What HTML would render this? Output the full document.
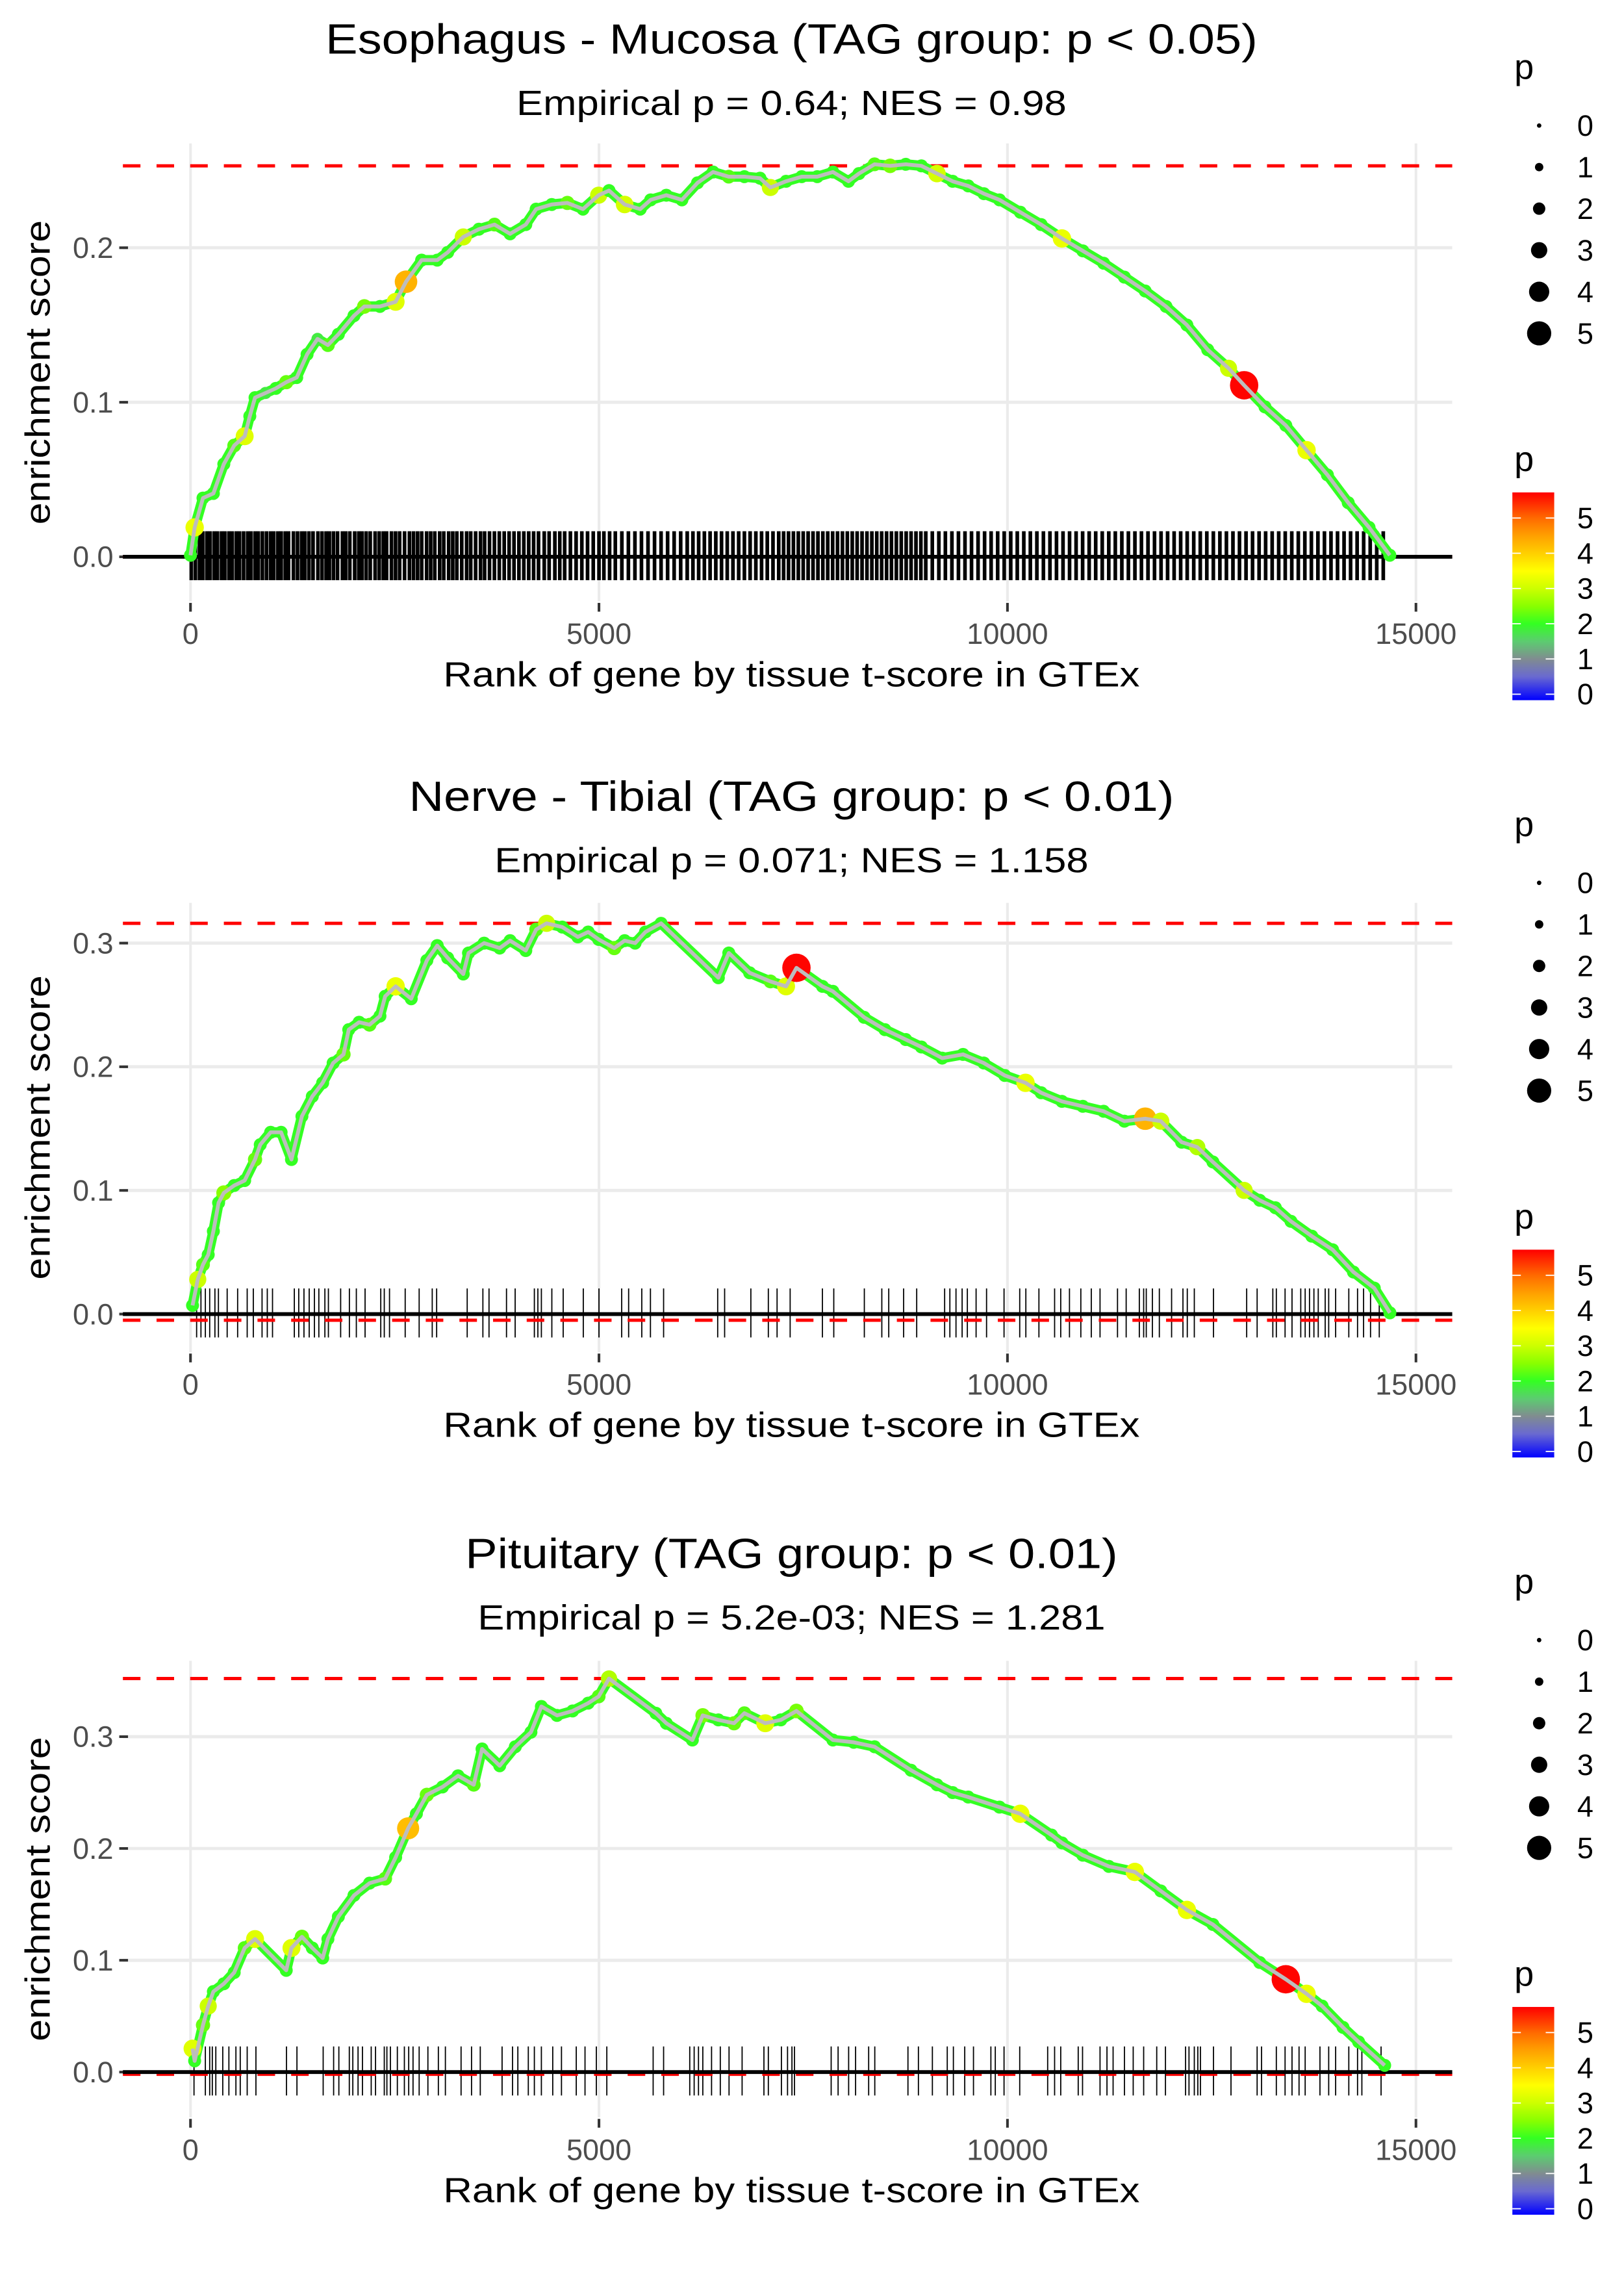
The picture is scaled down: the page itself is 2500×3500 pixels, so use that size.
<!DOCTYPE html>
<html><head><meta charset="utf-8"><title>GSEA enrichment plots</title>
<style>
html,body{margin:0;padding:0;background:#fff;}
svg{display:block;font-family:"Liberation Sans",Arial,sans-serif;}
</style></head>
<body>
<svg id="fig" xmlns="http://www.w3.org/2000/svg" width="2500" height="3500" viewBox="0 0 1110 1554">
<defs>
<linearGradient id="pgrad" x1="0" y1="1" x2="0" y2="0">
<stop offset="0" stop-color="#0000ff"/><stop offset="0.114" stop-color="#6a6ad0"/>
<stop offset="0.198" stop-color="#808c90"/><stop offset="0.283" stop-color="#5ccc70"/>
<stop offset="0.368" stop-color="#33ff22"/><stop offset="0.452" stop-color="#88ff00"/>
<stop offset="0.537" stop-color="#ccff00"/><stop offset="0.622" stop-color="#ffff00"/>
<stop offset="0.706" stop-color="#ffd000"/><stop offset="0.791" stop-color="#ffa000"/>
<stop offset="0.876" stop-color="#ff6a00"/><stop offset="1" stop-color="#ff0000"/>
</linearGradient>
</defs>
</svg>
<script>
// ---------- data ----------
const xTicks = [0, 5000, 10000, 15000];
const xTickLabels = ["0", "5000", "10000", "15000"];
const legendValues = [0, 1, 2, 3, 4, 5];

const titles = ["Esophagus - Mucosa (TAG group: p < 0.05)", "Nerve - Tibial (TAG group: p < 0.01)", "Pituitary (TAG group: p < 0.01)"];
const subtitles = ["Empirical p = 0.64; NES = 0.98", "Empirical p = 0.071; NES = 1.158", "Empirical p = 5.2e-03; NES = 1.281"];
const maxES = [0.253, 0.316, 0.352];
const minES = [0.0, -0.005, -0.002];
const yTicks1 = [0.0, 0.1, 0.2];
const yTicks2 = [0.0, 0.1, 0.2, 0.3];
const yTicks3 = [0.0, 0.1, 0.2, 0.3];

const p1Rank = [0,51,153,280,408,535,663,726,790,918,
1045,1172,1300,1427,1555,1682,1810,2001,2128,2319,
2511,2638,2829,3020,3148,3339,3530,3721,3912,4104,
4231,4422,4613,4804,4996,5123,5314,5505,5633,5824,
6015,6206,6397,6588,6780,6971,7098,7290,7481,7672,
7863,8054,8182,8373,8564,8755,8946,9137,9329,9520,
9711,9902,10157,10412,10667,10922,11177,11431,11686,11941,
12196,12451,12706,12897,13152,13407,13661,13916,14171,14426,
14680];
const p1ES = [0.001,0.019,0.038,0.041,0.060,0.072,0.078,0.091,0.103,0.106,
0.109,0.113,0.116,0.131,0.141,0.137,0.144,0.156,0.162,0.162,
0.165,0.178,0.192,0.192,0.197,0.207,0.212,0.215,0.209,0.215,
0.225,0.228,0.229,0.225,0.234,0.237,0.228,0.225,0.231,0.234,
0.231,0.242,0.249,0.246,0.246,0.245,0.239,0.243,0.246,0.246,
0.249,0.243,0.248,0.254,0.253,0.254,0.253,0.248,0.243,0.240,
0.235,0.231,0.223,0.215,0.206,0.198,0.190,0.181,0.172,0.162,
0.150,0.134,0.122,0.111,0.097,0.085,0.069,0.053,0.035,0.019,
0.001];
const p1P = [2,3.3,2,2,2,2.2,3.2,2,2,1.8,
2,2.3,2,2,1.8,2.2,2,2,2.4,2,
3.2,4.3,2,2,2,3,2,2.2,2,2,
2,2,2.3,2,3,2,3.1,2,2,2,
2,2,2,2.2,2,2,3,2,2,2,
2,2,2,2.2,2.4,2,2,3.1,2,2,
2,2,2,2,3.3,2,2,2,2,2,
2,2,3,5.7,2,2,3.3,2,2,2,
2];
const p1Rug = [10,60,110,150,200,240,290,330,380,420,470,510,560,600,650,700,740,790,830,880,930,980,1020,1070,1110,1160,1200,1260,1310,1360,1400,1450,1500,1560,1610,1660,1700,1750,1800,1860,1900,1950,2010,2060,2100,2150,2200,2260,2310,2360,2400,2460,2510,2560,2620,2680,2730,2780,2830,2890,2940,2990,3050,3100,3160,3210,3260,3320,3380,3430,3490,3550,3600,3660,3720,3780,3840,3900,3960,4020,4080,4140,4200,4260,4330,4390,4460,4520,4580,4650,4720,4790,4860,4930,5000,5060,5130,5200,5280,5360,5440,5520,5600,5680,5760,5840,5920,6000,6080,6150,6220,6290,6360,6430,6500,6570,6640,6710,6780,6850,6920,6990,7060,7130,7200,7260,7320,7380,7440,7500,7560,7620,7680,7740,7800,7860,7920,7980,8040,8100,8160,8220,8280,8340,8400,8460,8520,8580,8640,8700,8760,8820,8880,8940,9000,9080,9160,9240,9320,9400,9480,9560,9640,9720,9800,9880,9960,10040,10120,10200,10280,10360,10440,10520,10600,10680,10760,10840,10920,11000,11080,11160,11240,11320,11400,11480,11560,11640,11720,11800,11880,11960,12040,12120,12200,12280,12360,12440,12520,12600,12680,12760,12840,12920,13000,13080,13160,13240,13320,13400,13480,13560,13640,13720,13800,13880,13960,14040,14120,14200,14280,14360,14440,14520,14600];

const p2Rank = [25,89,153,217,280,344,408,535,663,790,
854,981,1109,1236,1364,1491,1618,1746,1873,1937,
2064,2192,2319,2383,2511,2702,2893,3020,3148,3339,
3403,3594,3785,3912,4104,4231,4359,4550,4741,4868,
4996,5187,5314,5442,5569,5760,6461,6589,6844,7099,
7290,7417,7736,7863,8245,8500,8755,8946,9201,9456,
9711,9966,10221,10412,10667,10922,11177,11431,11686,11877,
12132,12323,12515,12897,13088,13279,13470,13725,13980,14235,
14490,14681];
const p2ES = [0.007,0.028,0.040,0.048,0.067,0.090,0.098,0.104,0.108,0.125,
0.137,0.147,0.147,0.125,0.160,0.176,0.187,0.203,0.210,0.230,
0.236,0.234,0.241,0.257,0.265,0.255,0.286,0.298,0.288,0.275,
0.292,0.300,0.296,0.302,0.294,0.311,0.316,0.313,0.305,0.309,
0.303,0.296,0.302,0.300,0.309,0.316,0.272,0.292,0.276,0.269,
0.265,0.280,0.265,0.261,0.240,0.230,0.222,0.216,0.207,0.210,
0.203,0.193,0.187,0.179,0.172,0.168,0.164,0.156,0.158,0.156,
0.139,0.135,0.123,0.100,0.092,0.086,0.075,0.063,0.052,0.034,
0.021,0.001];
const p2P = [2,3,2.2,2,2,2,2.5,2,2,2.3,
2,2,2,2,2,2,2,2,2.3,2,
2,2.2,2,2,3.3,2,2,2,2,2,
2,2,2,2,2,2.2,3,2,2,2,
2,2.3,2,2,2,2,2,2,2,2.2,
3.2,5.7,2,2,2,2,2,2,2,2,
2,2,3.3,2,2,2,2,2,4.3,3,
2,2.8,2,3,2,2,2,2,2,2,
2,2];
const p2Rug = [75,128,182,235,299,342,449,577,694,769,876,940,1004,1271,1325,1389,1453,1517,1571,1645,1688,1838,1945,2030,2137,2329,2372,2436,2628,2799,2959,3013,3387,3579,3654,3868,3974,4209,4252,4295,4423,4562,4808,5000,5278,5363,5524,5630,5791,6453,6538,6859,7073,7180,7340,7735,7874,8248,8462,8547,8729,8889,9231,9295,9370,9445,9509,9616,9744,9958,10150,10225,10385,10577,10652,10759,10898,11026,11133,11347,11453,11614,11667,11699,11774,11859,12009,12148,12201,12287,12522,12928,13056,13248,13291,13398,13483,13590,13644,13697,13751,13804,13889,13932,14017,14178,14285,14359,14444,14551];

const p3Rank = [25,51,153,217,280,408,535,663,790,1172,
1236,1364,1491,1618,1682,1810,2001,2192,2383,2511,
2664,2765,2893,3084,3275,3467,3569,3785,3976,4167,
4295,4486,4677,4868,4996,5123,5696,5824,6143,6270,
6461,6653,6780,7035,7226,7417,7863,8118,8373,8819,
9137,9329,9520,9902,10157,10539,10667,10922,11240,11559,
11877,12196,12515,13088,13407,13661,13852,14107,14298,14617];
const p3ES = [0.021,0.010,0.042,0.059,0.072,0.079,0.089,0.111,0.119,0.091,
0.111,0.121,0.111,0.102,0.119,0.139,0.158,0.169,0.173,0.192,
0.218,0.231,0.248,0.255,0.265,0.257,0.289,0.274,0.291,0.304,
0.327,0.319,0.323,0.330,0.336,0.352,0.321,0.312,0.297,0.319,
0.315,0.312,0.321,0.312,0.315,0.323,0.297,0.295,0.291,0.270,
0.257,0.250,0.246,0.237,0.231,0.212,0.205,0.194,0.184,0.179,
0.162,0.145,0.132,0.098,0.083,0.070,0.059,0.040,0.027,0.006];
const p3P = [3.2,2,2.3,3,2,2,2,2.2,3.2,2,
3.2,2.3,2,2,2,2,2,2,2.2,2,
4.2,2,2.3,2,2,2.2,2,2,2,2,
2,2,2,2,2.2,2.8,2,2,2,2.4,
2,2.3,2.2,3.2,2,2.4,2,2,2,2,
2,2,2,2,3.3,2,2,2,2,3.3,
2,3.3,2,2,5.7,3.3,2,2,2,2];
const p3Rug = [43,182,235,267,310,395,470,556,609,694,801,1175,1303,1624,1752,1816,1944,1987,2051,2105,2212,2265,2372,2404,2447,2532,2618,2671,2724,2799,2906,3034,3120,3312,3440,3547,3814,3942,4007,4135,4209,4295,4434,4541,4722,4829,4968,5096,5663,5791,6111,6165,6218,6271,6378,6485,6592,6752,7019,7073,7233,7308,7362,7393,7842,7927,8056,8141,8301,8376,8782,8910,9081,9263,9338,9477,9584,9797,9851,9958,10150,10492,10577,10652,10866,10919,11133,11218,11293,11432,11539,11667,11827,11934,12180,12222,12287,12330,12362,12522,12736,13056,13110,13291,13398,13483,13569,13644,13825,13932,14017,14178,14285,14338,14573];

// ---------- helpers ----------
const NS = "http://www.w3.org/2000/svg";
const svg = document.getElementById("fig");
function mk(tag, attrs, parent, text) {
  const e = document.createElementNS(NS, tag);
  for (const k in attrs) e.setAttribute(k, attrs[k]);
  if (text !== undefined) e.textContent = text;
  (parent || svg).appendChild(e);
  return e;
}
const cStops = [[-0.17,[0,0,255]],[0.5,[106,106,208]],[1,[128,140,144]],[1.5,[92,204,112]],[2,[51,255,34]],[2.5,[136,255,0]],[3,[204,255,0]],[3.5,[255,255,0]],[4,[255,208,0]],[4.5,[255,160,0]],[5,[255,106,0]],[5.73,[255,0,0]]];
function pColor(p) {
  if (p <= cStops[0][0]) return "rgb(0,0,255)";
  for (let i = 1; i < cStops.length; i++) {
    if (p <= cStops[i][0]) {
      const a = cStops[i-1], b = cStops[i], t = (p - a[0]) / (b[0] - a[0]);
      const c = a[1].map((v, j) => Math.round(v + (b[1][j] - v) * t));
      return "rgb(" + c.join(",") + ")";
    }
  }
  return "rgb(255,0,0)";
}
function pRadius(p) { return 1.6 + 1.42 * p; }

const X0 = 130.2, XK = 279.2 / 5000, PL = 84, PR = 992.6;
function xScale(r) { return X0 + r * XK; }

const titleLen = [637, 523, 446];
const subLen = [376, 406, 429];

const panels = [
  {ranks: p1Rank, es: p1ES, ps: p1P, rug: p1Rug, yTicks: yTicks1, y0: 380.5, yk: 1056, top: 98, bottom: 411, rugW: 2.5},
  {ranks: p2Rank, es: p2ES, ps: p2P, rug: p2Rug, yTicks: yTicks2, y0: 898, yk: 845, top: 617, bottom: 924, rugW: 0.8},
  {ranks: p3Rank, es: p3ES, ps: p3P, rug: p3Rug, yTicks: yTicks3, y0: 1416, yk: 764, top: 1135, bottom: 1447, rugW: 0.8}
];

panels.forEach((P, k) => {
  const off = 517.5 * k;
  const yScale = v => P.y0 - v * P.yk;
  const g = mk("g", {});
  
  

  const t = mk("text", {x: 541, y: 36.6 + off, "text-anchor": "middle", "font-size": 29, fill: "#000", textLength: titleLen[k], lengthAdjust: "spacingAndGlyphs"}, g, titles[k]);
  
  
  const st = mk("text", {x: 541, y: 78.5 + off, "text-anchor": "middle", "font-size": 24, fill: "#000", textLength: subLen[k], lengthAdjust: "spacingAndGlyphs"}, g, subtitles[k]);
  
  

  // gridlines
  xTicks.forEach((v, i) => {
    const gl = mk("line", {x1: xScale(v), x2: xScale(v), y1: P.top, y2: P.bottom, stroke: "#ebebeb", "stroke-width": 1.8}, g);
    
    
    const tk = mk("line", {x1: xScale(v), x2: xScale(v), y1: P.bottom + 1, y2: P.bottom + 7, stroke: "#333", "stroke-width": 1.8}, g);
    
    
    const tl = mk("text", {x: xScale(v), y: P.bottom + 29, "text-anchor": "middle", "font-size": 20, fill: "#4d4d4d"}, g, xTickLabels[i]);
    
    
  });
  P.yTicks.forEach(v => {
    if (v !== 0) {
      const gl = mk("line", {x1: PL, x2: PR, y1: yScale(v), y2: yScale(v), stroke: "#ebebeb", "stroke-width": 2.2}, g);
      
      
    }
    const tk = mk("line", {x1: 81.5, x2: 87.5, y1: yScale(v), y2: yScale(v), stroke: "#333", "stroke-width": 1.8}, g);
    
    
    const tl = mk("text", {x: 77.5, y: yScale(v) + 7, "text-anchor": "end", "font-size": 20, fill: "#4d4d4d"}, g, v.toFixed(1));
    
    
  });

  // rug
  const rg = mk("g", {stroke: "#000", "stroke-width": P.rugW}, g);
  
  
  P.rug.forEach(r => {
    const l = mk("line", {x1: xScale(r), x2: xScale(r), y1: P.y0 - 17.5, y2: P.y0 + 16}, rg);
    
    
  });

  // min dashed, zero line, max dashed
  const mn = mk("line", {x1: PL, x2: PR, y1: yScale(minES[k]), y2: yScale(minES[k]), stroke: "#ff0000", "stroke-width": 2.2, "stroke-dasharray": "12 11"}, g);
  
  
  const zl = mk("line", {x1: PL, x2: PR, y1: yScale(0), y2: yScale(0), stroke: "#000", "stroke-width": 2.6}, g);
  
  
  const mx = mk("line", {x1: PL, x2: PR, y1: yScale(maxES[k]), y2: yScale(maxES[k]), stroke: "#ff0000", "stroke-width": 2.2, "stroke-dasharray": "12 11"}, g);
  
  

  const d = P.ranks.map((r, i) => (i ? "L" : "M") + xScale(r).toFixed(2) + "," + yScale(P.es[i]).toFixed(2)).join(" ");
  // green underlay band (dense hit points)
  const band = mk("path", {d: d, fill: "none", stroke: pColor(2), "stroke-width": 7, "stroke-linejoin": "round", "stroke-linecap": "round"}, g);
  
  

  // points
  const pg = mk("g", {}, g);
  
  
  P.ranks.forEach((r, i) => {
    const c = mk("ellipse", {cx: xScale(r), cy: yScale(P.es[i]), rx: pRadius(P.ps[i]), ry: pRadius(P.ps[i]), fill: pColor(P.ps[i])}, pg);
    
    
  });
  // line
  const ln = mk("path", {d: d, fill: "none", stroke: "#bdbdbd", "stroke-width": 2.6, "stroke-linejoin": "round"}, g);
  
  

  // axis titles
  const xt = mk("text", {x: 541, y: P.bottom + 58, "text-anchor": "middle", "font-size": 24, fill: "#000", textLength: 476, lengthAdjust: "spacingAndGlyphs"}, g, "Rank of gene by tissue t-score in GTEx");
  
  
  const yc = (P.top + P.bottom) / 2;
  const yt = mk("text", {x: 0, y: 0, transform: "translate(34," + yc + ") rotate(-90)", "text-anchor": "middle", "font-size": 24, fill: "#000", textLength: 208, lengthAdjust: "spacingAndGlyphs"}, g, "enrichment score");
  
  

  // size legend
  const lg = mk("g", {}, g);
  
  
  const lt = mk("text", {x: 1035, y: 54 + off, "font-size": 24, fill: "#000"}, lg, "p");
  
  
  legendValues.forEach((v, i) => {
    const cy = 85.8 + 28.4 * i + off;
    const dot = mk("circle", {cx: 1052, cy: cy, r: pRadius(v) * 0.95, fill: "#000"}, lg);
    
    
    const tx = mk("text", {x: 1078, y: cy + 7, "font-size": 20, fill: "#000"}, lg, String(v));
    
    
  });

  // colour bar
  const cg = mk("g", {}, g);
  
  
  const ct = mk("text", {x: 1035, y: 322 + off, "font-size": 24, fill: "#000"}, cg, "p");
  
  
  const bar = mk("rect", {x: 1033.7, y: 336.5 + off, width: 28.6, height: 142, fill: "url(#pgrad)"}, cg);
  
  
  legendValues.forEach(v => {
    const yy = 474.4 - 24.08 * v + off;
    const t1 = mk("line", {x1: 1033.7, x2: 1039.5, y1: yy, y2: yy, stroke: "#fff", "stroke-width": 0.8}, cg);
    
    
    const t2 = mk("line", {x1: 1056.5, x2: 1062.3, y1: yy, y2: yy, stroke: "#fff", "stroke-width": 0.8}, cg);
    
    
    const tx = mk("text", {x: 1078, y: yy + 7, "font-size": 20, fill: "#000"}, cg, String(v));
    
    
  });
});
</script>
</body></html>
